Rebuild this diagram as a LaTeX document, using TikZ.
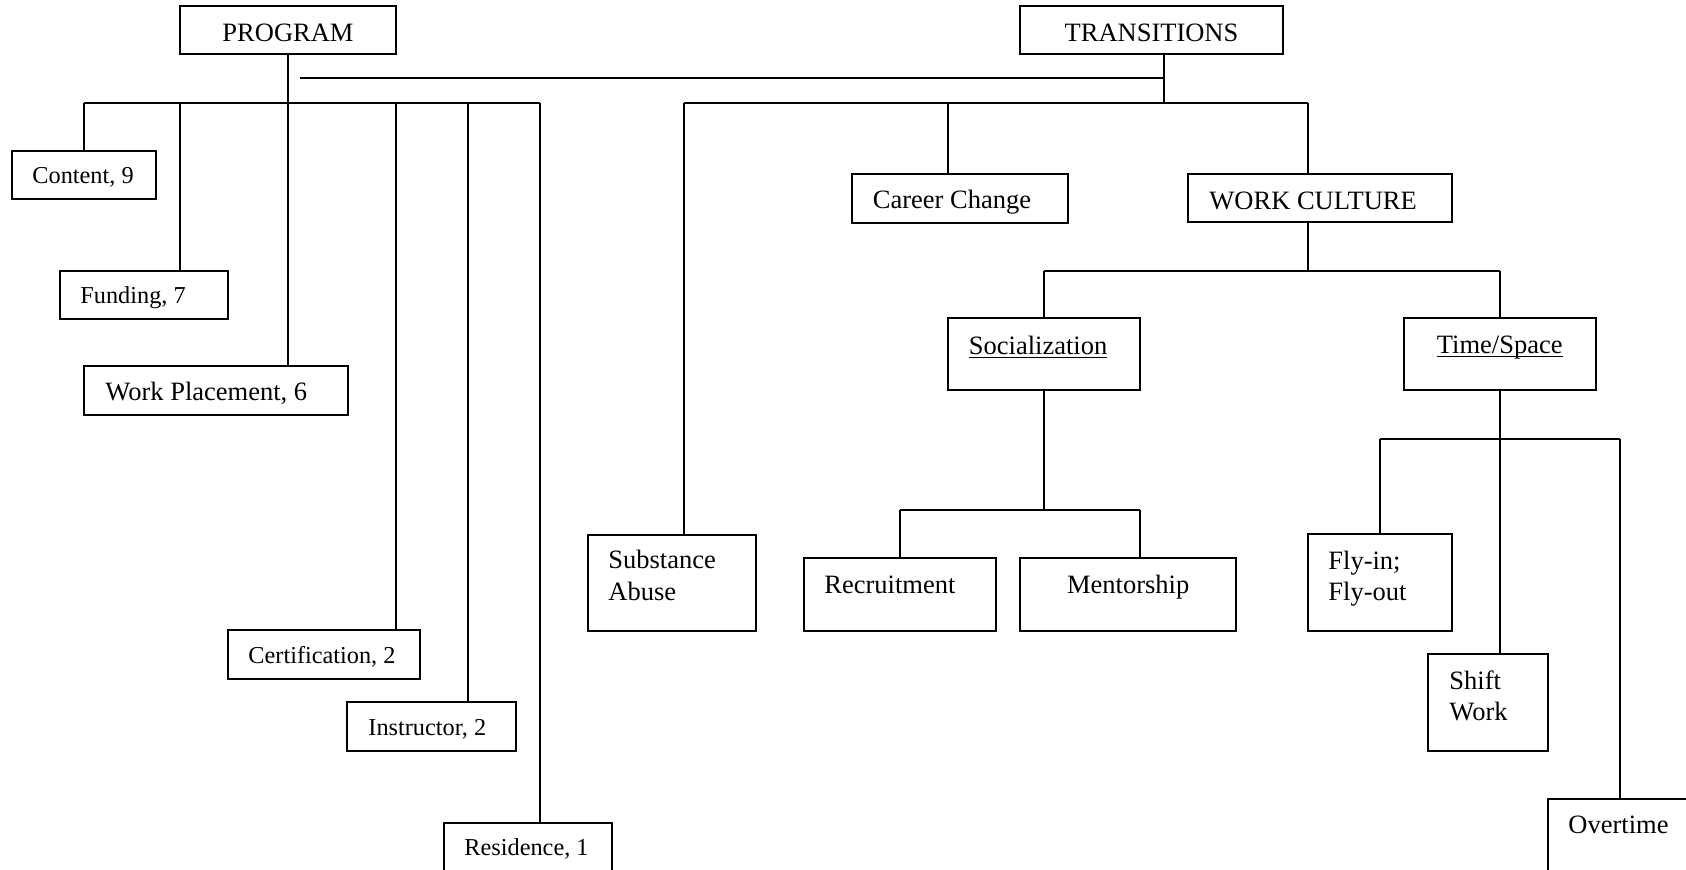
\documentclass[tikz,border=0pt]{standalone}
\usepackage{fontspec}
\setmainfont{Liberation Serif}
\usetikzlibrary{fit}
\begin{document}
\begin{tikzpicture}[x=0.4528pt,y=-0.4528pt,
  box/.style={draw, line width=0.9pt, inner sep=0pt, outer sep=0pt},
  big/.style={font=\fontsize{12}{14.3}\selectfont, inner sep=0pt, anchor=base west, align=left},
  small/.style={font=\fontsize{11}{13}\selectfont, inner sep=0pt, anchor=base west},
  link/.style={line width=0.9pt}]
\useasboundingbox (0,0) rectangle (1686,869);
\clip (0,0) rectangle (1686,869);

% ---- boxes ----
\node[box, fit={(180,6) (396,54)}] (prog) {};
\node[box, fit={(1020,6) (1283,54)}] (trans) {};
\node[box, fit={(12,151) (156,199)}] (content) {};
\node[box, fit={(60,271) (228,319)}] (funding) {};
\node[box, fit={(84,366) (348,415)}] (workpl) {};
\node[box, fit={(228,630) (420,679)}] (cert) {};
\node[box, fit={(347,702) (516,751)}] (instr) {};
\node[box, fit={(444,823) (612,900)}] (resid) {};
\node[box, fit={(852,174) (1068,223)}] (career) {};
\node[box, fit={(1188,174) (1452,222)}] (wc) {};
\node[box, fit={(948,318) (1140,390)}] (soc) {};
\node[box, fit={(1404,318) (1596,390)}] (ts) {};
\node[box, fit={(588,535) (756,631)}] (subst) {};
\node[box, fit={(804,558) (996,631)}] (recr) {};
\node[box, fit={(1020,558) (1236,631)}] (ment) {};
\node[box, fit={(1308,534) (1452,631)}] (fly) {};
\node[box, fit={(1428,654) (1548,751)}] (shift) {};
\node[box, fit={(1548,799) (1720,900)}] (overt) {};

% ---- texts ----
\node[big, anchor=base] (progt) at (288,41.7) {PROGRAM};
\node[big, anchor=base] (transt) at (1151.5,41.7) {TRANSITIONS};
\node[small] (contentt) at (32,183.3) {Content, 9};
\node[small] (fundingt) at (80,303) {Funding, 7};
\node[big] (workplt) at (105,400) {Work Placement, 6};
\node[small] (certt) at (248,663.3) {Certification, 2};
\node[small] (instrt) at (368,735) {Instructor, 2};
\node[small] (residt) at (464,855) {Residence, 1};
\node[big] (careert) at (872.5,208) {Career Change};
\node[big] (wct) at (1209,209) {WORK CULTURE};
\node[big] (soct) at (968.5,354.3) {\underline{\smash{Socialization}}};
\node[big] (tst) at (1436.5,353.3) {\underline{\smash{Time/Space}}};
\node[big] (subst1) at (608,568.3) {Substance};
\node[big] (subst2) at (608,600) {Abuse};
\node[big] (recrt) at (824,593.3) {Recruitment};
\node[big] (mentt) at (1066.7,593.3) {Mentorship};
\node[big] (fly1) at (1328,569) {Fly-in;};
\node[big] (fly2) at (1328,600.7) {Fly-out};
\node[big] (shift1) at (1449,689) {Shift};
\node[big] (shift2) at (1449,720.7) {Work};
\node[big] (overtt) at (1568,833.3) {Overtime};

% ---- junction coordinates ----
\coordinate (pc) at (300,78);
\coordinate (tc) at (1164,78);
\coordinate (tj) at (1164,103);
\coordinate (lb1) at (84,103);
\coordinate (lb2) at (180,103);
\coordinate (lb4) at (396,103);
\coordinate (lb5) at (468,103);
\coordinate (lb6) at (540,103);
\coordinate (rb1) at (684,103);
\coordinate (rb2) at (948,103);
\coordinate (rb3) at (1308,103);
\coordinate (wj) at (1308,271);
\coordinate (wl) at (1044,271);
\coordinate (wr) at (1500,271);
\coordinate (sj) at (1044,510);
\coordinate (sl) at (900,510);
\coordinate (sr) at (1140,510);
\coordinate (tj2) at (1500,439);
\coordinate (tl) at (1380,439);
\coordinate (tr) at (1620,439);

% ---- connectors: PROGRAM ----
\draw[link] (prog.south) -- (workpl.north -| prog.south);
\draw[link] (pc) -- (tc);
\draw[link] (lb1) -- (lb6);
\draw[link] (lb1) -- (content.north);
\draw[link] (lb2) -- (lb2 |- funding.north);
\draw[link] (lb4) -- (lb4 |- cert.north);
\draw[link] (lb5) -- (lb5 |- instr.north);
\draw[link] (lb6) -- (lb6 |- resid.north);

% ---- connectors: TRANSITIONS ----
\draw[link] (trans.south -| tc) -- (tj);
\draw[link] (rb1) -- (rb3);
\draw[link] (rb1) -- (rb1 |- subst.north);
\draw[link] (rb2) -- (rb2 |- career.north);
\draw[link] (rb3) -- (rb3 |- wc.north);

% ---- WORK CULTURE ----
\draw[link] (wc.south -| wj) -- (wj);
\draw[link] (wl) -- (wr);
\draw[link] (wl) -- (wl |- soc.north);
\draw[link] (wr) -- (wr |- ts.north);

% ---- Socialization ----
\draw[link] (soc.south -| sj) -- (sj);
\draw[link] (sl) -- (sr);
\draw[link] (sl) -- (sl |- recr.north);
\draw[link] (sr) -- (sr |- ment.north);

% ---- Time/Space ----
\draw[link] (ts.south -| tj2) -- (tj2 |- shift.north);
\draw[link] (tl) -- (tr);
\draw[link] (tl) -- (tl |- fly.north);
\draw[link] (tr) -- (tr |- overt.north);
\end{tikzpicture}
\end{document}
